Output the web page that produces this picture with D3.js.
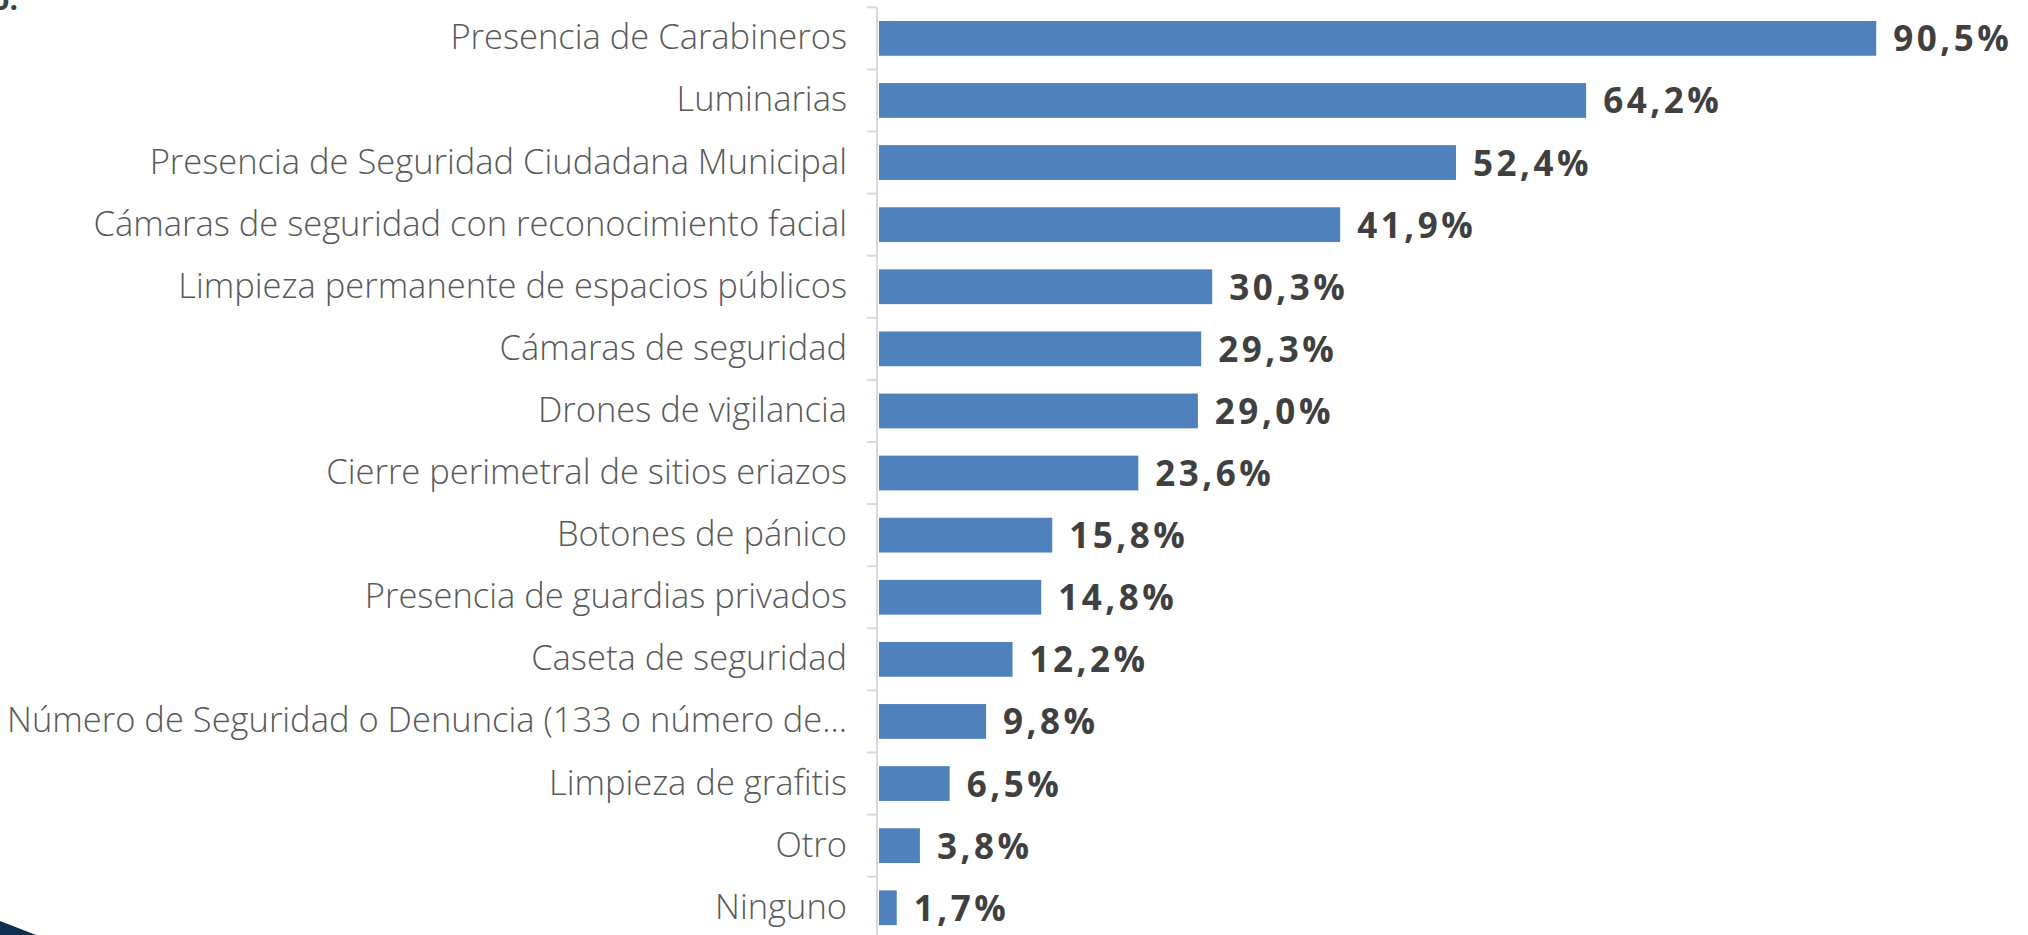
<!DOCTYPE html>
<html lang="es">
<head>
  <meta charset="UTF-8">
  <style>
    html, body { margin: 0; padding: 0; background: #fff; }
    svg { display: block; }
    .cat-label {
      font-family: "Open Sans", sans-serif;
      font-weight: 300;
      font-size: 34.5px;
      fill: #595959;
      text-anchor: end;
    }
    .val-label {
      font-family: "Open Sans", sans-serif;
      font-weight: 700;
      font-size: 35px;
      letter-spacing: 3.5px;
      fill: #404040;
    }
    .bar { fill: #4f81bd; }
    .axis-line { stroke: #d9d9d9; stroke-width: 2; }
  </style>
  <script src="https://d3js.org/d3.v7.min.js"></script>
</head>
<body>
  <svg id="chart" width="2028" height="935"></svg>

  <script>
    // categories, top to bottom
    const categories = [
      "Presencia de Carabineros",
      "Luminarias",
      "Presencia de Seguridad Ciudadana Municipal",
      "Cámaras de seguridad con reconocimiento facial",
      "Limpieza permanente de espacios públicos",
      "Cámaras de seguridad",
      "Drones de vigilancia",
      "Cierre perimetral de sitios eriazos",
      "Botones de pánico",
      "Presencia de guardias privados",
      "Caseta de seguridad",
      "Número de Seguridad o Denuncia (133 o número de...",
      "Limpieza de grafitis",
      "Otro",
      "Ninguno"
    ];

    // percentages
    const values = [90.5, 64.2, 52.4, 41.9, 30.3, 29.3, 29.0, 23.6, 15.8, 14.8, 12.2, 9.8, 6.5, 3.8, 1.7];

    const svg = d3.select("#chart");

    // layout
    const axisX = 878;
    const pad = 0.44;

    const x = d3.scaleLinear()
      .domain([0, 100])
      .range([axisX, axisX + 1103]);

    const y = d3.scaleBand()
      .domain(categories)
      .range([7.3, 7.3 + 62.1 * categories.length])
      .paddingInner(pad)
      .paddingOuter(pad / 2);

    const step = y.step();

    // axis line and tick marks at band edges
    svg.append("line")
      .attr("class", "axis-line")
      .attr("x1", axisX - 1).attr("x2", axisX - 1)
      .attr("y1", y.range()[0]).attr("y2", 935);

    const edges = categories.map(d => y(d) - step * pad / 2);
    edges.push(y.range()[1]);
    svg.selectAll(".tick")
      .data(edges)
      .enter()
      .append("line")
      .attr("class", "axis-line")
      .attr("x1", axisX - 11).attr("x2", axisX - 1)
      .attr("y1", d => d).attr("y2", d => d);

    // bars
    svg.selectAll(".bar")
      .data(values)
      .enter()
      .append("rect")
      .attr("class", "bar")
      .attr("x", x(0) + 1)
      .attr("y", (d, i) => y(categories[i]))
      .attr("width", d => x(d) - x(0) - 1)
      .attr("height", y.bandwidth());

    // category labels
    svg.selectAll(".cat-label")
      .data(categories)
      .enter()
      .append("text")
      .attr("class", "cat-label")
      .attr("x", 847)
      .attr("y", d => y(d) + y.bandwidth() / 2 + 11)
      .text(d => d);

    // value labels
    svg.selectAll(".val-label")
      .data(values)
      .enter()
      .append("text")
      .attr("class", "val-label")
      .attr("x", d => x(d) + 17)
      .attr("y", (d, i) => y(categories[i]) + y.bandwidth() / 2 + 13)
      .text(d => d.toFixed(1).replace(".", ",") + "%");

    // leftovers of the slide: cut title text and corner shape
    svg.append("text")
      .attr("class", "val-label")
      .attr("x", -9)
      .attr("y", 10)
      .style("font-size", "30px")
      .style("letter-spacing", "0px")
      .text("o.");

    svg.append("path")
      .attr("d", "M0,921 L36,935 L0,935 Z")
      .attr("fill", "#0e2f4d");
  </script>
</body>
</html>
